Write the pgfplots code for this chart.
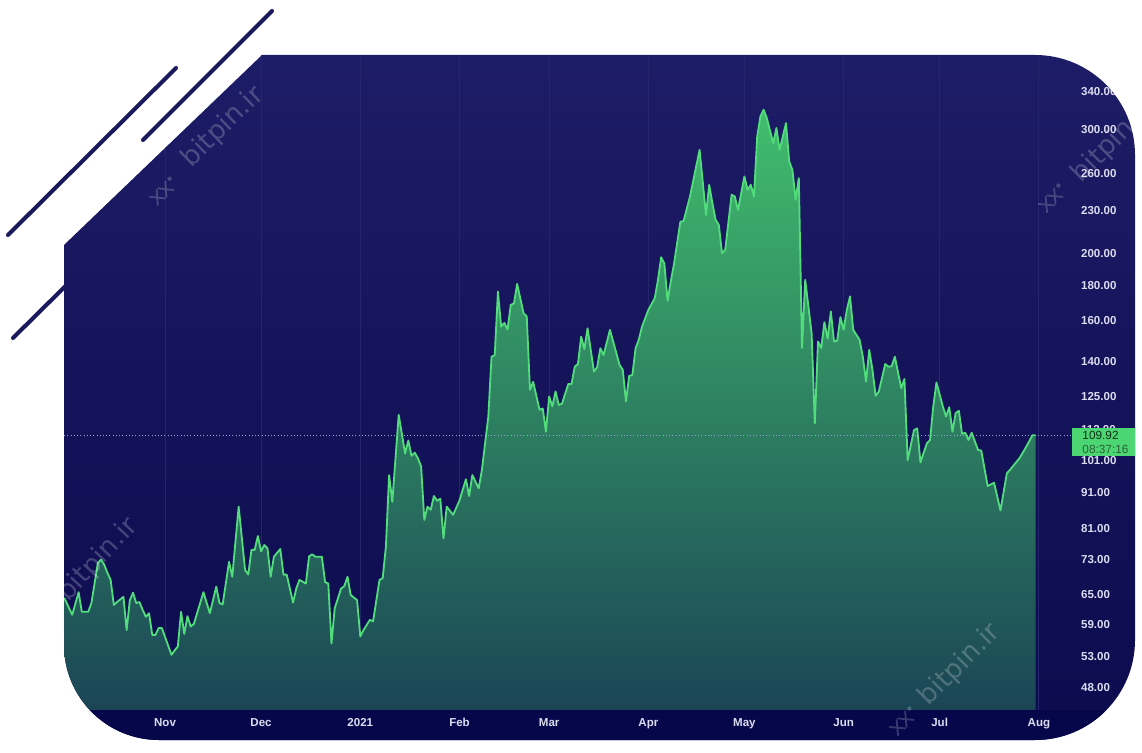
\documentclass[border=0pt]{standalone}
\usepackage{pgfplots}
\pgfplotsset{compat=1.18}
\usepackage{pgfplotstable}
\usepackage{fontspec}
\setmainfont{Liberation Sans}
\newfontfamily\wmfont{DejaVu Sans}

\definecolor{navytop}{HTML}{1D1C66}
\definecolor{navybot}{HTML}{0C0B4E}
\definecolor{band}{HTML}{06074A}
\definecolor{deco}{HTML}{1B1A5C}
\definecolor{gridc}{HTML}{25256C}
\definecolor{linec}{HTML}{52DC7C}
\definecolor{filltop}{HTML}{41BD6D}
\definecolor{fillmid}{HTML}{2E8763}
\definecolor{fillbot}{HTML}{1B4556}
\definecolor{tickc}{HTML}{DCDCF0}
\definecolor{boxc}{HTML}{4CD673}
\definecolor{boxtxt}{HTML}{0F2E17}
\definecolor{boxtxt2}{HTML}{2B5E37}
\definecolor{dotc}{HTML}{9AA2D6}

% day 0 = 1 Nov 2020, price
\pgfplotstableread{
d v
-31.5 64.4
-29 60.9
-27 65.6
-26 61.5
-24 61.5
-23 63.3
-21 72.2
-20 73.0
-19 71.8
-18 69.9
-17 68.3
-16 62.9
-15 63.5
-13 64.6
-12 57.9
-11 63.9
-10 65.5
-9 63.3
-8 63.5
-7 61.9
-6 60.5
-5 61.2
-4 57.0
-3 57.0
-2 58.3
-1 58.3
2 53.4
4 54.9
5 61.5
6 57.2
7 60.6
8 58.6
9 59.1
12 65.6
14 61.2
16 66.8
17 63.3
18 63.0
20 72.5
21 69.0
23 86.9
25 70.6
26 69.5
27 75.4
28 75.4
29 78.9
30 75.0
31 76.6
32 75.8
33 69.0
34 73.7
36 75.6
37 69.5
38 69.5
40 63.4
41 66.4
42 68.3
44 67.5
45 73.8
46 74.3
47 73.7
49 73.7
50 67.8
51 67.5
52 55.4
53 62.2
55 66.4
56 66.9
57 69.0
58 65.0
60 63.9
61 56.7
62 57.9
64 59.9
65 59.6
67 68.3
68 68.7
69 76.2
70 96.4
71 88.3
73 117.5
75 103.5
76 108.0
77 102.7
78 103.8
79 101.9
80 99.2
81 83.2
82 86.9
83 86.0
84 90.0
85 88.6
86 89.2
87 78.3
88 86.9
90 84.6
92 88.7
94 95.1
95 90.0
96 96.4
98 92.3
99 98.1
101 116.9
102 142.3
103 143.0
104 176.3
105 157.1
106 159.0
107 155.6
108 168.7
109 169.5
110 180.8
112 164.2
113 162.5
114 127.6
115 131.0
117 119.5
118 120.0
119 111.2
120 124.8
121 120.9
122 126.9
123 121.4
124 121.9
126 130.1
127 130.1
128 137.7
129 138.9
130 152.0
131 145.9
132 156.2
134 135.5
135 137.5
136 146.3
137 143.1
139 155.4
142 138.5
143 136.3
144 122.8
145 133.6
146 134.0
147 146.3
148 150.4
149 157.0
151 166.0
153 172.5
154 183.2
155 197.4
156 193.2
157 171.0
158 182.2
159 193.0
161 221.8
162 222.3
164 241.0
167 280.9
169 226.8
170 250.4
171 235.8
172 223.2
173 219.6
174 200.0
175 202.2
177 242.3
178 241.0
179 230.6
181 257.3
182 246.3
183 250.4
184 241.0
185 293.6
186 313.5
187 320.5
188 311.9
190 287.2
191 301.9
192 280.9
194 306.7
195 270.4
196 263.0
197 238.4
198 256.0
199 146.4
200 183.2
202 153.7
203 114.3
204 149.6
205 146.4
206 159.4
207 151.0
208 165.1
209 149.6
210 150.0
211 162.1
212 155.4
213 166.0
214 173.5
215 155.4
217 150.4
218 142.3
219 131.1
220 145.5
221 136.3
222 125.1
223 126.9
225 138.9
226 137.7
227 137.9
228 142.3
230 128.3
231 132.2
232 101.3
234 111.8
235 112.4
236 100.5
238 107.0
239 108.2
240 120.8
241 130.7
243 120.8
244 116.9
245 120.5
246 111.2
247 118.2
248 119.1
249 110.4
250 110.8
251 108.2
252 110.8
254 104.7
255 104.5
257 93.0
259 94.0
261 85.8
263 97.0
264 98.1
265 99.4
267 102.0
269 105.7
271 109.9
272 109.92
}\price

% faint watermark logo
\newcommand\wmlogo[2]{%
  \begin{scope}[shift={#1}, rotate=#2, white, opacity=0.2, line width=1.3pt, line cap=round]
    \draw (-13,-6) -- (-3,6) (-13,6) -- (-3,-6);
    \draw (-1,-6) -- (9,6) (-1,6) -- (9,-6);
    \fill (14,5) circle (2.2);
  \end{scope}}

\begin{document}
\begin{tikzpicture}[x=0.025cm,y=0.025cm]
\path[use as bounding box] (0,0) rectangle (1142,752);

% decorative strokes
\draw[deco, line width=2.9pt, line cap=round] (8,517) -- (176,684);
\draw[deco, line width=2.9pt, line cap=round] (143,612) -- (272,741);
\draw[deco, line width=2.9pt, line cap=round] (13,414) -- (110,510);

% frame
\def\frame{(64,507) -- (262,697) -- (1035,697) arc[start angle=90, end angle=0, radius=100]
  -- (1135,112) arc[start angle=0, end angle=-90, radius=100]
  -- (159,12) arc[start angle=270, end angle=180, radius=95] -- cycle}
\shade[top color=navytop, bottom color=navybot] \frame;

\begin{scope}
\clip \frame;
\fill[band] (40,0) rectangle (1142,42);

\begin{axis}[
  at={(1.605cm,1.05cm)}, anchor=south west,
  scale only axis, width=24.36cm, height=16.375cm,
  xmin=-31.5, xmax=273,
  ymode=log, ymin=44.53, ymax=384,
  log origin y=infty,
  clip=false,
  axis line style={draw=none},
  tick style={draw=none},
  xtick={0,30,61,92,120,151,181,212,242,273},
  xticklabels={Nov,Dec,2021,Feb,Mar,Apr,May,Jun,Jul,Aug},
  xmajorgrids,
  major grid style={gridc, line width=0.6pt},
  ytick={48,53,59,65,73,81,91,101,112,125,140,160,180,200,230,260,300,340},
  yticklabels={48.00,53.00,59.00,65.00,73.00,81.00,91.00,101.00,112.00,125.00,140.00,160.00,180.00,200.00,230.00,260.00,300.00,340.00},
  yticklabel pos=right,
  tick label style={font=\fontsize{8.2}{9.8}\selectfont\bfseries, text=tickc},
  yticklabel style={anchor=west, inner sep=0pt, xshift=1.05cm},
  xticklabel style={anchor=north, inner sep=0pt, yshift=-0.2cm},
]
\addplot[draw=none, top color=filltop, middle color=fillmid, bottom color=fillbot]
  table[x=d, y=v] {\price} \closedcycle;
\addplot[linec, line width=1.3pt, line join=round, mark=none]
  table[x=d, y=v] {\price};
\addplot[dotc, line width=0.7pt, dash pattern=on 0.7pt off 1.6pt, mark=none]
  coordinates {(-31.5,109.92) (283.2,109.92)};
\node[fill=boxc, anchor=north west, yshift=0.175cm, inner xsep=0.25cm, inner ysep=0.07cm,
  align=left, font=\fontsize{8.4}{10}\selectfont]
  at (axis cs:283.4,109.92) {\textcolor{boxtxt}{109.92}\\\textcolor{boxtxt2}{08:37:16}};
\end{axis}

% watermarks
\begin{scope}[every node/.style={text=white, opacity=0.22, font=\wmfont\fontsize{19}{20}\selectfont}]
\node[rotate=44] at (223,625) {bitpin.ir};
\node[rotate=45] at (1113,610) {bitpin.ir};
\node[rotate=47] at (98,192) {bitpin.ir};
\node[rotate=45] at (960,87) {bitpin.ir};
\end{scope}
\wmlogo{(163,560)}{44}
\wmlogo{(1052,553)}{45}
\wmlogo{(903,30)}{45}
\end{scope}
\end{tikzpicture}
\end{document}
